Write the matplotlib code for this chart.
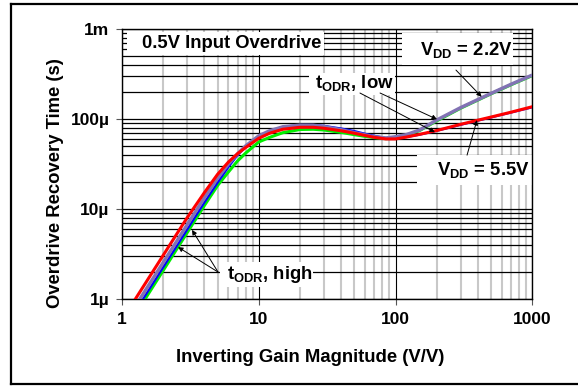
import matplotlib
matplotlib.use("Agg")
import matplotlib.pyplot as plt
from matplotlib.lines import Line2D
from matplotlib.patches import Rectangle
from matplotlib.ticker import LogLocator, NullFormatter

plt.rcParams["font.family"] = ["Liberation Sans", "DejaVu Sans"]
plt.rcParams["font.weight"] = "bold"
plt.rcParams["mathtext.fontset"] = "custom"
plt.rcParams["mathtext.rm"] = "Liberation Sans:bold"
plt.rcParams["mathtext.bf"] = "Liberation Sans:bold"
plt.rcParams["mathtext.it"] = "Liberation Sans:bold"

# inverting gain (V/V)
gain = [1.2, 1.5, 2, 2.5, 3, 4, 5, 6, 7, 8, 10, 12, 15, 20, 25, 30, 40, 50,
        60, 70, 85, 100, 120, 150, 200, 300, 500, 700, 1000]

# overdrive recovery time (us)
green_22 = [0.62, 1.05, 2.09, 3.57, 5.53, 11.0, 18.4, 26, 34.5, 42, 56, 63, 71,
            77, 77.5, 76, 71.5, 67.5, 64.5, 62.5, 61, 62, 66, 75, 96, 133, 192, 242, 306]
blue_55 = [0.67, 1.14, 2.27, 3.86, 5.98, 11.9, 19.8, 29.5, 40, 49, 64.5, 74, 82.5,
           86.5, 86.5, 84.5, 79, 74, 69, 65.5, 62, 61.5, 63.5, 67.5, 74.5, 87, 105, 119, 136]
purple_22 = [0.76, 1.29, 2.56, 4.36, 6.76, 13.4, 22.2, 31.9, 41.4, 50.4, 65.5, 74.5,
             82.5, 86, 85.8, 83, 76.5, 71, 67, 64, 62, 64, 67.5, 76, 98, 135, 194, 245, 310]
red_55 = [0.91, 1.55, 3.08, 5.25, 8.1, 15.3, 24.5, 33.5, 41.5, 48.5, 61.5, 70, 77.5,
          81.5, 81.5, 79.5, 74.5, 70, 66, 63, 60.5, 60.5, 63.5, 68, 75, 88, 106, 120, 138]

SERIES = [
    (green_22, "#00ee00", 2.2),
    (blue_55, "#0000ff", 1.6),
    (purple_22, "#8272b4", 2.5),
    (red_55, "#ff0000", 2.2),
]

x_ticks = [1, 10, 100, 1000]
x_labels = ["1", "10", "100", "1000"]
y_ticks = [1e-6, 1e-5, 1e-4, 1e-3]
y_labels = ["1µ", "10µ", "100µ", "1m"]


def main():
    fig = plt.figure(figsize=(5.78, 3.86), dpi=100)
    ax = fig.add_axes([0.2111, 0.2246, 0.7098, 0.6995])

    for values, color, lw in SERIES:
        ax.plot(gain, [v * 1e-6 for v in values], color=color, lw=lw,
                solid_capstyle="butt", solid_joinstyle="round", zorder=4)

    ax.set_xscale("log")
    ax.set_yscale("log")
    ax.set_xlim(1, 1000)
    ax.set_ylim(1e-6, 1e-3)

    ax.set_xticks(x_ticks, x_labels)
    ax.set_yticks(y_ticks, y_labels)
    ax.xaxis.set_minor_locator(LogLocator(base=10, subs=range(2, 10)))
    ax.yaxis.set_minor_locator(LogLocator(base=10, subs=range(2, 10)))
    ax.xaxis.set_minor_formatter(NullFormatter())
    ax.yaxis.set_minor_formatter(NullFormatter())
    ax.tick_params(which="minor", length=0)
    ax.tick_params(which="major", length=4, width=0.8, color="#555555",
                   labelsize=12.5, pad=5)

    ax.grid(which="minor", axis="x", color="#c8c8c8", lw=1.5, zorder=1)
    ax.grid(which="major", axis="x", color="black", lw=0.8, zorder=1)
    ax.grid(which="both", axis="y", color="black", lw=0.9, zorder=1)
    ax.set_axisbelow(True)
    for s in ax.spines.values():
        s.set_linewidth(1.0)

    ax.set_xlabel("Inverting Gain Magnitude (V/V)", fontsize=13.3, fontweight="bold")
    ax.set_ylabel("Overdrive Recovery Time (s)", fontsize=13.3, fontweight="bold")
    ax.xaxis.set_label_coords(0.458, -0.214)
    ax.xaxis.label.set_va("center")
    ax.yaxis.set_label_coords(-0.163, 0.429)
    ax.yaxis.label.set_va("center")

    # white label boxes (axes fraction: x0, y0, x1, y1)
    boxes = [
        (0.012, 0.905, 0.492, 0.990),
        (0.683, 0.867, 0.953, 0.985),
        (0.456, 0.757, 0.665, 0.838),
        (0.719, 0.424, 1.000, 0.535),
        (0.239, 0.046, 0.465, 0.138),
    ]
    for x0, y0, x1, y1 in boxes:
        ax.add_patch(Rectangle((x0, y0), x1 - x0, y1 - y0, transform=ax.transAxes,
                               facecolor="white", edgecolor="none", zorder=2))

    kw = dict(transform=ax.transAxes, fontsize=13.3, fontweight="bold",
              ha="left", va="center", zorder=5)
    ax.text(0.048, 0.947, "0.5V Input Overdrive", **kw)
    ax.text(0.726, 0.925, r"V$_{\mathbf{DD}}$ = 2.2V", **kw)
    ax.text(0.470, 0.800, r"t$_{\mathbf{ODR}}$, low", **kw)
    ax.text(0.768, 0.478, r"V$_{\mathbf{DD}}$ = 5.5V", **kw)
    ax.text(0.256, 0.092, r"t$_{\mathbf{ODR}}$, high", **kw)

    arrow = dict(arrowstyle="-|>", color="black", lw=0.7, mutation_scale=7,
                 shrinkA=0, shrinkB=0)
    ax.annotate("", xy=(426, 178e-6), xytext=(0.814, 0.849),
                textcoords="axes fraction", arrowprops=arrow, zorder=6)
    ax.annotate("", xy=(394, 98e-6), xytext=(0.841, 0.534),
                textcoords="axes fraction", arrowprops=arrow, zorder=6)
    ax.annotate("", xy=(194, 72e-6), xytext=(0.580, 0.764),
                textcoords="axes fraction", arrowprops=arrow, zorder=6)
    ax.annotate("", xy=(201, 100e-6), xytext=(0.629, 0.764),
                textcoords="axes fraction", arrowprops=arrow, zorder=6)
    ax.annotate("", xy=(3.25, 5.9e-6), xytext=(0.234, 0.101),
                textcoords="axes fraction", arrowprops=arrow, zorder=6)
    ax.annotate("", xy=(2.57, 3.8e-6), xytext=(0.234, 0.101),
                textcoords="axes fraction", arrowprops=arrow, zorder=6)

    # outer frame (open on the right)
    for xs, ys in [([0.019, 0.019], [0.004, 0.990]),
                   ([0.019, 1.0], [0.990, 0.990]),
                   ([0.019, 1.0], [0.004, 0.004])]:
        fig.add_artist(Line2D(xs, ys, color="black", lw=1.6))

    fig.savefig("out.png", dpi=100)


if __name__ == "__main__":
    main()
